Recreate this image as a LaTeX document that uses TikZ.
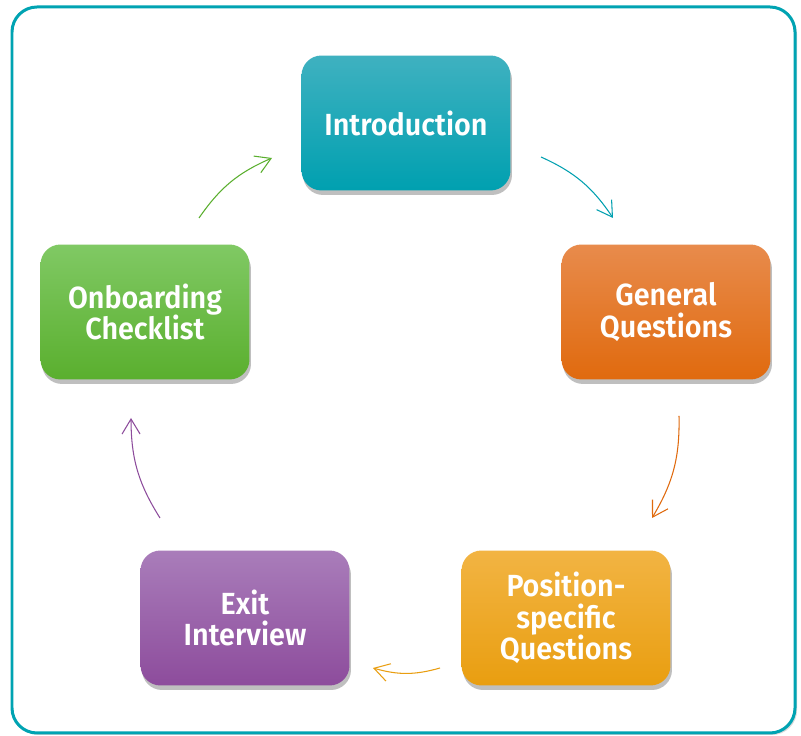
\documentclass[tikz,border=0pt]{standalone}
\usepackage{fontspec}
\newfontfamily\boxfont{Fira Sans}[BoldFont={Fira Sans SemiBold}, FakeStretch=0.94]
\usetikzlibrary{arrows.meta, shadows}

\definecolor{frameteal}{HTML}{00A3B2}
\definecolor{introtop}{HTML}{3FB1C0}
\definecolor{introbot}{HTML}{00A0B0}
\definecolor{gentop}{HTML}{E88B4C}
\definecolor{genbot}{HTML}{E06A0E}
\definecolor{postop}{HTML}{F2B443}
\definecolor{posbot}{HTML}{E99E10}
\definecolor{exittop}{HTML}{A97DBA}
\definecolor{exitbot}{HTML}{8D4C9C}
\definecolor{onbtop}{HTML}{80C964}
\definecolor{onbbot}{HTML}{5AAF2E}

\begin{document}
\begin{tikzpicture}[x=0.02cm, y=0.02cm, >={Straight Barb[length=3mm, width=3.6mm]},
    stage/.style={rounded corners=0.4cm, minimum width=4.18cm, minimum height=2.7cm,
        align=center, text=white, font=\boxfont\bfseries\fontsize{17.4}{18}\selectfont,
        drop shadow={shadow xshift=0.03cm, shadow yshift=-0.09cm, fill=black, opacity=0.25}},
    flow/.style={->, line width=0.6pt, bend left=16}]

\useasboundingbox (0,0) rectangle (801,736);

% Outer frame
\draw[frameteal, line width=0.06cm, rounded corners=0.5cm,
    drop shadow={shadow xshift=0.04cm, shadow yshift=-0.04cm, fill=black, opacity=0.15}, fill=white]
    (12,3) rectangle (795,729);

% Define the stages
\node[stage, top color=introtop, bottom color=introbot] (intro) at (406,613) {Introduction};
\node[stage, top color=gentop, bottom color=genbot] (general) at (666,424) {General\\Questions};
\node[stage, top color=postop, bottom color=posbot] (position) at (566,118) {Position-\\specific\\Questions};
\node[stage, top color=exittop, bottom color=exitbot] (exit) at (245,118) {Exit\\Interview};
\node[stage, top color=onbtop, bottom color=onbbot] (onboard) at (145,424) {Onboarding\\Checklist};

% Arrow ends
\coordinate (a1) at (541,579); \coordinate (b1) at (613,518);
\coordinate (a2) at (679,320); \coordinate (b2) at (652,218);
\coordinate (a3) at (440,68);  \coordinate (b3) at (373,68);
\coordinate (a4) at (160,218); \coordinate (b4) at (131,318);
\coordinate (a5) at (199,518); \coordinate (b5) at (272,578);

% Transitions
\path[flow]
    (a1) edge[introbot] (b1)
    (a2) edge[genbot] (b2)
    (a3) edge[posbot] (b3)
    (a4) edge[exitbot] (b4)
    (a5) edge[onbbot] (b5);

\end{tikzpicture}
\end{document}
